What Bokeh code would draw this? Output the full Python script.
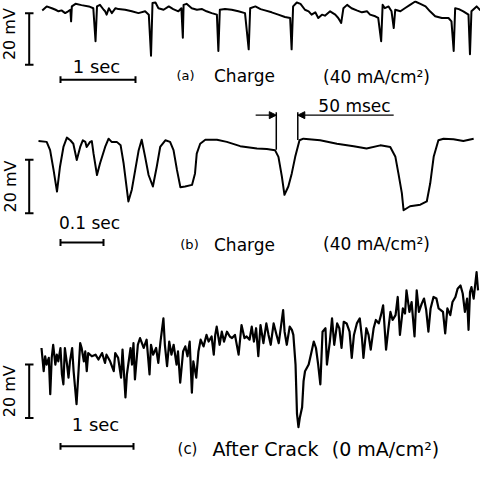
from bokeh.plotting import figure
from bokeh.models import Range1d, Arrow, NormalHead
from bokeh.core.properties import value
from bokeh.embed import file_html
from bokeh.resources import INLINE
import math

# ---------------- data (time in s, signal in mV, relative) ----------------
# (a) Charge 40 mA/cm2, slow sweep
a_t = [0.01,0.07,0.14,0.19,0.23,0.27,0.32,0.36,0.39,0.40,
       0.41,0.46,0.54,0.64,0.70,0.73,0.75,0.79,0.84,0.86,
       0.88,0.91,0.95,1.00,1.04,1.13,1.22,1.31,1.40,1.45,
       1.48,1.50,1.54,1.58,1.65,1.72,1.78,1.85,1.89,1.91,
       1.92,1.96,2.03,2.10,2.17,2.23,2.30,2.37,2.39,2.41,
       2.48,2.57,2.66,2.75,2.80,2.82,2.89,2.96,3.02,3.11,
       3.20,3.29,3.36,3.38,3.40,3.45,3.50,3.56,3.61,3.65,
       3.70,3.74,3.79,3.83,3.90,3.97,4.01,4.05,4.08,4.13,
       4.19,4.26,4.33,4.40,4.44,4.51,4.55,4.59,4.61,4.64,
       4.69,4.73,4.76,4.78,4.85,4.91,4.98,5.05,5.12,5.19,
       5.25,5.32,5.41,5.50,5.54,5.57,5.59,5.64,5.70,5.77,
       5.79,5.81,5.88,5.93]
a_mv = [1.15,2.7,2.0,1.4,0.8,1.15,0.1,0.8,1.4,-3.1,
        2.7,3.7,3.2,2.7,2.0,-10.8,2.7,3.3,1.4,0.8,
        -0.5,2.0,0.1,2.0,1.65,1.4,0.8,0.1,0.8,-0.5,
        -16.5,4.0,4.2,2.0,1.4,2.7,1.65,0.8,2.0,-9.5,
        3.3,3.7,2.0,1.4,1.65,0.8,0.1,-0.5,-14.6,1.4,
        1.65,1.4,0.8,0.1,-14.0,2.0,2.7,1.65,1.15,0.4,
        -0.5,-1.4,-1.8,-14.0,2.7,4.2,3.7,1.4,0.8,-0.5,
        0.4,-1.8,-0.5,-0.9,0.8,-0.5,-1.8,-3.7,2.0,3.3,
        2.0,1.15,0.4,0.8,-0.5,-1.15,-1.8,-10.8,3.3,2.0,
        2.7,0.8,-5.7,1.4,0.8,2.0,3.3,4.6,3.7,2.7,
        0.8,-1.15,-1.8,-1.8,-3.1,-14.6,2.0,1.65,0.8,-0.5,
        -15.9,0.8,2.7,1.15]

# (b) Charge 40 mA/cm2, fast sweep
b_t = [0.000,0.019,0.027,0.035,0.043,0.050,0.058,0.066,0.074,0.081,
       0.089,0.097,0.103,0.109,0.112,0.120,0.124,0.128,0.136,0.143,
       0.155,0.163,0.170,0.182,0.191,0.198,0.209,0.217,0.225,0.233,
       0.240,0.248,0.256,0.266,0.275,0.283,0.295,0.306,0.314,0.322,
       0.330,0.341,0.357,0.364,0.368,0.376,0.388,0.415,0.438,0.469,
       0.508,0.531,0.550,0.558,0.566,0.572,0.581,0.589,0.597,0.607,
       0.616,0.655,0.694,0.733,0.763,0.795,0.818,0.830,0.837,0.845,
       0.849,0.864,0.888,0.903,0.911,0.919,0.930,0.942,0.965,0.988,
       1.012]
b_mv = [7.0,6.7,3.6,-3.8,-11.9,-2.6,4.8,8.3,7.3,6.0,
        -0.1,4.8,7.3,6.7,4.8,6.7,7.0,2.3,-5.7,-1.4,
        4.8,7.9,6.7,6.7,5.4,-1.4,-15.6,-11.2,-3.8,3.6,
        7.5,1.1,-5.7,-10.0,-2.6,4.8,7.3,6.7,3.6,-3.8,
        -10.3,-10.0,-9.4,-5.1,2.3,6.0,7.5,7.5,6.7,5.1,
        4.2,4.0,3.6,1.1,-6.3,-13.1,-10.0,-5.1,1.1,7.3,
        7.9,7.3,6.0,5.1,4.2,5.4,4.8,1.1,-5.1,-12.5,
        -18.9,-17.4,-16.8,-15.6,-8.8,1.1,7.3,7.9,7.7,7.0,
        7.9]

# (c) After crack 0 mA/cm2
c_t = [0.00,0.03,0.05,0.07,0.10,0.12,0.14,0.16,0.19,0.21,
       0.23,0.26,0.28,0.30,0.32,0.35,0.37,0.39,0.42,0.44,
       0.48,0.51,0.53,0.55,0.58,0.60,0.62,0.64,0.69,0.74,
       0.78,0.83,0.87,0.89,0.94,0.99,1.01,1.05,1.09,1.11,
       1.15,1.17,1.22,1.24,1.26,1.28,1.32,1.35,1.40,1.44,
       1.48,1.50,1.53,1.57,1.60,1.63,1.67,1.69,1.72,1.75,
       1.78,1.81,1.85,1.87,1.90,1.94,1.97,2.00,2.03,2.06,
       2.08,2.12,2.15,2.18,2.22,2.26,2.29,2.33,2.36,2.38,
       2.40,2.44,2.47,2.50,2.54,2.58,2.61,2.65,2.70,2.74,
       2.78,2.81,2.85,2.88,2.91,2.94,2.97,3.00,3.04,3.08,
       3.11,3.14,3.18,3.22,3.25,3.28,3.31,3.33,3.36,3.40,
       3.43,3.45,3.48,3.50,3.52,3.54,3.57,3.59,3.61,3.66,
       3.69,3.73,3.76,3.79,3.82,3.85,3.89,3.91,3.95,3.98,
       4.01,4.05,4.08,4.11,4.14,4.18,4.22,4.25,4.28,4.32,
       4.36,4.39,4.41,4.45,4.48,4.51,4.55,4.58,4.62,4.65,
       4.68,4.72,4.75,4.78,4.81,4.85,4.88,4.91,4.95,4.98,
       5.00,5.04,5.07,5.11,5.14,5.17,5.21,5.24,5.27,5.30,
       5.33,5.37,5.41,5.44,5.47,5.50,5.53,5.56,5.60,5.63,
       5.67,5.70,5.74,5.77,5.80,5.83,5.85,5.87,5.89,5.92,
       5.94,5.96,5.98]
c_mv = [6.2,-2.5,3.1,0.0,2.5,-11.1,2.5,7.4,0.0,3.7,
        1.2,6.2,-3.7,-7.4,6.2,0.0,-4.9,1.2,6.2,-2.5,
        -14.8,-1.2,8.0,6.2,1.2,4.9,-2.5,4.3,3.1,3.7,
        1.9,4.3,0.6,3.7,1.2,-2.5,4.3,2.5,-4.9,5.6,
        -12.3,-3.7,6.2,0.0,8.0,-5.6,7.4,9.9,6.2,9.3,
        -3.7,7.4,3.7,6.2,0.6,8.6,17.3,7.4,-0.6,8.6,
        3.7,7.4,0.0,4.9,-6.8,4.9,6.8,3.1,8.6,-10.5,
        1.2,-4.9,4.9,9.3,6.8,11.1,8.6,10.5,3.7,11.1,
        14.2,7.4,12.3,8.6,12.3,10.5,9.9,11.1,3.7,14.8,
        9.9,10.5,9.3,14.2,8.6,13.6,3.1,14.8,8.0,15.4,
        11.1,7.4,15.4,11.1,8.0,14.2,20.4,12.3,7.4,14.2,
        13.0,11.1,0.0,-18.5,-23.4,-19.7,-16.0,-6.2,-2.5,0.0,
        3.7,8.6,6.2,0.0,-7.4,12.3,13.6,0.0,8.6,17.3,
        7.4,15.4,13.6,6.2,16.0,15.4,12.3,2.5,11.1,15.4,
        17.3,9.9,2.5,13.6,11.1,5.6,13.6,16.7,15.4,18.5,
        22.2,5.6,13.0,19.7,16.7,18.5,25.3,11.1,21.0,19.1,
        27.8,19.7,23.4,10.5,27.8,19.7,22.9,24.7,20.4,12.3,
        21.0,25.3,24.7,21.0,20.4,19.7,11.7,21.0,18.5,23.4,
        25.3,28.4,29.6,26.6,19.7,24.7,13.0,27.1,29.0,24.7,
        29.6,34.6,27.8]

# 50 msec marker on trace (b)
mark_t = [0.553, 0.603]
mark_top = [17.8, 17.8]
mark_bottom = [3.8, 7.4]

FONT = value("DejaVu Sans")
INK = "black"

p = figure(width=480, height=461, output_backend="svg", toolbar_location=None,
           x_range=Range1d(12, 492), y_range=Range1d(478, 12), min_border=0,
           x_axis_location=None, y_axis_location=None)
p.grid.visible = False
p.outline_line_color = None
p.background_fill_color = "white"
p.border_fill_color = "white"

p.extra_x_ranges = {"a": Range1d(-0.5541, 5.9324),
                    "b": Range1d(-0.08837, 1.02791),
                    "c": Range1d(-0.5616, 6.0137)}
p.extra_y_ranges = {"a": Range1d(-174.23, 5.0),
                    "b": Range1d(-112.96, 59.63),
                    "c": Range1d(-36.30, 136.30)}

# traces
p.line(a_t, a_mv, x_range_name="a", y_range_name="a", line_color=INK, line_width=2, line_join="round")
p.line(b_t, b_mv, x_range_name="b", y_range_name="b", line_color=INK, line_width=2, line_join="round")
p.line(c_t, c_mv, x_range_name="c", y_range_name="c", line_color=INK, line_width=2.2, line_join="round")

# 50 msec marker
p.segment(x0=mark_t, y0=mark_top, x1=mark_t, y1=mark_bottom,
          x_range_name="b", y_range_name="b", line_color=INK, line_width=1.5)
head = dict(size=7, fill_color=INK, line_color=INK)
p.add_layout(Arrow(end=NormalHead(**head), x_start=0.505, y_start=16.7, x_end=mark_t[0], y_end=16.7,
                   x_range_name="b", y_range_name="b", line_color=INK, line_width=1.3))
p.add_layout(Arrow(end=NormalHead(**head), x_start=0.826, y_start=16.7, x_end=mark_t[1], y_end=16.7,
                   x_range_name="b", y_range_name="b", line_color=INK, line_width=1.3))

# 20 mV scale bars (reference-frame units)
vb_x = 40.7
for y0, y1 in [(25, 77), (173, 227), (380, 434)]:
    p.segment(x0=[vb_x, 36.5, 36.5], y0=[y0, y0, y1], x1=[vb_x, 45, 45], y1=[y1, y0, y1],
              line_color=INK, line_width=2)

# time scale bars
for x0, x1, y in [(72, 147, 92), (72, 115, 256.7), (72, 145, 462.7)]:
    p.segment(x0=[x0, x0, x1], y0=[y, y - 3.5, y - 3.5], x1=[x1, x0, x1], y1=[y, y + 3.5, y + 3.5],
              line_color=INK, line_width=2)

# texts
p.text(x=[21, 22, 21], y=[46, 200, 407], text=["20 mV"] * 3, angle=math.pi / 2,
       text_font=FONT, text_font_size="16px", text_align="center", text_baseline="middle", text_color=INK)
p.text(x=[108, 107], y=[78.5, 441], text=["1 sec", "1 sec"],
       text_font=FONT, text_font_size="18px", text_align="center", text_baseline="middle", text_color=INK)
p.text(x=[101, 366], y=[237, 119], text=["0.1 sec", "50 msec"],
       text_font=FONT, text_font_size="17px", text_align="center", text_baseline="middle", text_color=INK)
p.text(x=[197, 201], y=[88, 259], text=["(a)", "(b)"],
       text_font=FONT, text_font_size="13px", text_align="center", text_baseline="middle", text_color=INK)
p.text(x=[256, 256, 388, 388], y=[88, 259, 89, 258],
       text=["Charge", "Charge", "(40 mA/cm²)", "(40 mA/cm²)"],
       text_font=FONT, text_font_size="17px", text_align="center", text_baseline="middle", text_color=INK)
p.text(x=[199], y=[465], text=["(c)"],
       text_font=FONT, text_font_size="15px", text_align="center", text_baseline="middle", text_color=INK)
p.text(x=[277, 397], y=[465, 465], text=["After Crack", "(0 mA/cm²)"],
       text_font=FONT, text_font_size="19px", text_align="center", text_baseline="middle", text_color=INK)

open("out.html", "w").write(file_html(p, INLINE))
